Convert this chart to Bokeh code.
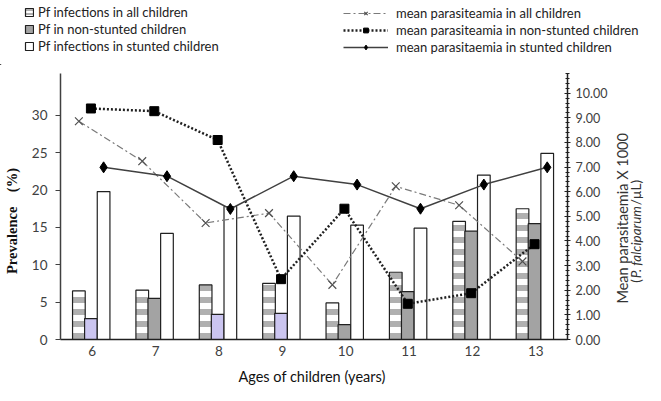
from bokeh.plotting import figure
from bokeh.layouts import column, row
from bokeh.models import (Range1d, LinearAxis, FactorRange, ColumnDataSource, Legend,
                          LegendItem, FixedTicker, NumeralTickFormatter)
from bokeh.transform import dodge
from bokeh.embed import file_html
from bokeh.resources import INLINE
from bokeh.core.properties import value
from math import pi

# ---- data ----
ages = ["6", "7", "8", "9", "10", "11", "12", "13"]
pf_all = [6.5, 6.6, 7.3, 7.5, 4.9, 9.0, 15.8, 17.5]
pf_nonstunted = [2.8, 5.5, 3.35, 3.5, 2.0, 6.4, 14.5, 15.5]
pf_stunted = [19.8, 14.2, 17.8, 16.5, 15.3, 14.9, 22.0, 24.9]
mp_all = [8.86, 7.24, 4.73, 5.13, 2.22, 6.22, 5.45, 3.17]
mp_nonstunted = [9.38, 9.27, 8.10, 2.45, 5.31, 1.45, 1.88, 3.87]
mp_stunted = [6.99, 6.63, 5.30, 6.63, 6.29, 5.31, 6.29, 6.99]
left_ticks = [0, 5, 10, 15, 20, 25, 30]
right_ticks = [0, 1, 2, 3, 4, 5, 6, 7, 8, 9, 10]
bar_labels = ["Pf infections in all children", "Pf in non-stunted children",
              "Pf infections in stunted children"]
line_labels = ["mean parasiteamia in all children", "mean parasiteamia in non-stunted children",
               "mean parasitaemia in stunted children"]

FONT = "Lato"
LAV = "#cbc5f0"
GRY = "#a3a3a3"
ns_colors = [LAV, GRY, LAV, LAV, GRY, GRY, GRY, GRY]
OFF = [-0.21, -0.02, 0.18]

src = ColumnDataSource(dict(age=ages, pf_all=pf_all, pf_ns=pf_nonstunted, pf_st=pf_stunted,
                            mp_all=mp_all, mp_ns=mp_nonstunted, mp_st=mp_stunted,
                            ns_col=ns_colors))

ALL_BAR = dict(fill_color="white", line_color="#202020", line_width=1.2,
               hatch_pattern="horizontal_line", hatch_color="#b0b0b0")
ST_BAR = dict(fill_color="white", line_color="#202020", line_width=1.2)
L_ALL = dict(line_color="#7a7a7a", line_width=1.2, line_dash="7 3 2 3")
M_ALL = dict(marker="x", size=11, line_color="#505050", line_width=1.2)
L_NS = dict(line_color="#202020", line_width=2.5, line_dash="2 2")
M_NS = dict(marker="square", size=9, fill_color="black", line_color="black")
L_ST = dict(line_color="#404040", line_width=1.5)
M_ST = dict(marker="diamond", size=11, fill_color="black", line_color="black")

TOTAL_W = 645
TOP_H = 65
B_TOP = 8
FRAME_H = 266
B_BOT = 28
BOT_H = 18
MAIN_H = B_TOP + FRAME_H + B_BOT
B_LEFT = 56
FRAME_W = 511
B_RIGHT = 48
MAIN_W = B_LEFT + FRAME_W + B_RIGHT
RT_W = TOTAL_W - MAIN_W
R_MAX = 10.8


def bare(fig):
    fig.outline_line_color = None
    fig.xgrid.visible = False
    fig.ygrid.visible = False
    return fig


# ================= main figure =================
p = bare(figure(x_range=FactorRange(factors=ages, range_padding=0), y_range=Range1d(0, 35.6),
                width=MAIN_W, height=MAIN_H,
                min_border_left=B_LEFT, min_border_right=B_RIGHT,
                min_border_top=B_TOP, min_border_bottom=B_BOT,
                output_backend="svg", toolbar_location=None))
p.extra_y_ranges = {"right": Range1d(0, R_MAX)}

ya = p.yaxis[0]
ya.ticker = FixedTicker(ticks=left_ticks)
ya.axis_line_color = "#404040"
ya.axis_line_width = 1.5
ya.major_tick_line_color = "#404040"
ya.major_tick_out = 5
ya.major_tick_in = 0
ya.minor_tick_line_color = None
ya.minor_tick_out = 0
ya.minor_tick_in = 0
ya.major_label_text_font = FONT
ya.major_label_text_font_size = "13.5px"
ya.major_label_text_color = "#404040"
ya.major_label_standoff = 8
ya.axis_label = "Prevalence\u00a0\u00a0\u00a0\u00a0(%)" + "\u00a0" * 8
ya.axis_label_text_font = "Liberation Serif"
ya.axis_label_text_font_style = "bold"
ya.axis_label_text_font_size = "14.5px"
ya.axis_label_text_color = "#111111"
ya.axis_label_standoff = 9

xa = p.xaxis[0]
xa.axis_line_color = "#202020"
xa.axis_line_width = 1.5
xa.major_tick_line_color = None
xa.major_tick_out = 0
xa.major_tick_in = 0
xa.major_label_text_font = FONT
xa.major_label_text_font_size = "13.5px"
xa.major_label_text_color = "#404040"
xa.major_label_standoff = 6

ra = LinearAxis(y_range_name="right", ticker=FixedTicker(ticks=right_ticks,
                minor_ticks=[i / 5 for i in range(0, 55)]))
ra.formatter = NumeralTickFormatter(format="0.00")
ra.axis_line_color = "#202020"
ra.axis_line_width = 1.5
ra.major_tick_line_color = "#202020"
ra.major_tick_in = 3
ra.major_tick_out = 3
ra.minor_tick_line_color = "#202020"
ra.minor_tick_in = 2
ra.minor_tick_out = 2
ra.major_label_text_font = FONT
ra.major_label_text_font_size = "12.5px"
ra.major_label_text_color = "#404040"
ra.major_label_standoff = 5
p.add_layout(ra, "right")

p.vbar(x=dodge("age", OFF[0], range=p.x_range), top="pf_all", width=0.2, source=src,
       hatch_weight=6, hatch_scale=12, **ALL_BAR)
p.vbar(x=dodge("age", OFF[1], range=p.x_range), top="pf_ns", width=0.2, source=src,
       fill_color="ns_col", line_color="#202020", line_width=1.2)
p.vbar(x=dodge("age", OFF[2], range=p.x_range), top="pf_st", width=0.2, source=src, **ST_BAR)

for off, col, ls, ms in [(OFF[0], "mp_all", L_ALL, M_ALL), (OFF[1], "mp_ns", L_NS, M_NS),
                         (OFF[2], "mp_st", L_ST, M_ST)]:
    p.line(x=dodge("age", off, range=p.x_range), y=col, source=src, y_range_name="right", **ls)
    p.scatter(x=dodge("age", off, range=p.x_range), y=col, source=src, y_range_name="right", **ms)

# ================= legend strip (top) =================
top = bare(figure(width=TOTAL_W, height=TOP_H, x_range=Range1d(0, TOTAL_W),
                  y_range=Range1d(0, TOP_H),
                  min_border_left=0, min_border_right=0, min_border_top=0, min_border_bottom=0,
                  x_axis_type=None, y_axis_type=None, output_backend="svg",
                  toolbar_location=None))

d_all = top.vbar(x=[-100], top=[1], width=1, hatch_weight=2, hatch_scale=4, **ALL_BAR)
d_ns = top.vbar(x=[-100], top=[1], width=1, fill_color=GRY, line_color="#202020", line_width=1.2)
d_st = top.vbar(x=[-100], top=[1], width=1, **ST_BAR)
dl = []
for ls, ms in [(L_ALL, M_ALL), (L_NS, M_NS), (L_ST, M_ST)]:
    a = top.line(x=[-100, -99], y=[1, 1], **ls)
    b = top.scatter(x=[-100], y=[1], **ms)
    dl.append([a, b])

common = dict(label_height=14, spacing=1, padding=0, margin=0, border_line_alpha=0,
              background_fill_alpha=0, label_text_font=FONT, label_text_font_size="13px",
              label_text_color="#222222")
leg1 = Legend(items=[LegendItem(label=bar_labels[0], renderers=[d_all]),
                     LegendItem(label=bar_labels[1], renderers=[d_ns]),
                     LegendItem(label=bar_labels[2], renderers=[d_st])],
              location=(24, 11), glyph_width=10, glyph_height=10, label_standoff=4, **common)
leg2 = Legend(items=[LegendItem(label=line_labels[i], renderers=dl[i]) for i in range(3)],
              location=(343, 10), glyph_width=45, glyph_height=12, label_standoff=8, **common)
top.add_layout(leg1)
top.add_layout(leg2)

# ================= right axis title strip =================
rt = bare(figure(width=RT_W, height=MAIN_H, x_range=Range1d(0, RT_W), y_range=Range1d(0, R_MAX),
                 min_border_left=0, min_border_right=0, min_border_top=B_TOP,
                 min_border_bottom=B_BOT, x_axis_type=None, y_axis_type=None,
                 output_backend="svg", toolbar_location=None))
PX = R_MAX / FRAME_H  # one pixel in right-axis units
rt.text(x=[7], y=[4.92], text=["Mean parasitaemia X 1000"], angle=pi / 2,
        text_align="center", text_baseline="middle", text_font=value(FONT),
        text_font_size="14.5px", text_color="#333333")
seg_y = 2.3
for txt, style, w in [("(", "normal", 4.6), ("P. falciparum", "italic", 73), ("/µL)", "normal", 30)]:
    rt.text(x=[20.5], y=[seg_y], text=[txt], angle=pi / 2, text_align="left",
            text_baseline="middle", text_font=value(FONT), text_font_style=style,
            text_font_size="13.5px", text_color="#333333")
    seg_y += w * PX

# ================= x-axis title strip =================
bt = bare(figure(width=TOTAL_W, height=BOT_H, x_range=Range1d(0, TOTAL_W), y_range=Range1d(0, BOT_H),
                 min_border_left=0, min_border_right=0, min_border_top=0, min_border_bottom=0,
                 x_axis_type=None, y_axis_type=None, output_backend="svg",
                 toolbar_location=None))
bt.text(x=[B_LEFT + FRAME_W / 2], y=[BOT_H / 2], text=["Ages of children (years)"],
        text_align="center", text_baseline="middle", text_font=value(FONT),
        text_font_size="14.5px", text_color="#111111")

layout = column(top, row(p, rt, spacing=0), bt, spacing=0)
open("out.html", "w").write(file_html(layout, INLINE))
